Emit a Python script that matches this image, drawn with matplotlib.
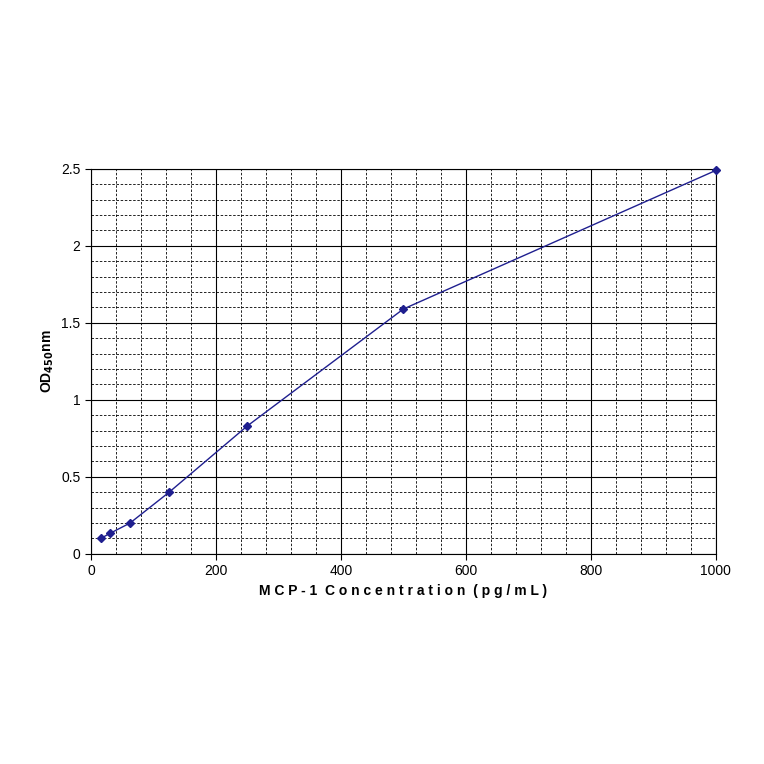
import matplotlib
matplotlib.use("Agg")
import matplotlib.pyplot as plt
from matplotlib.ticker import MultipleLocator, FuncFormatter

conc = [15.6, 31.25, 62.5, 125, 250, 500, 1000]
od = [0.10, 0.135, 0.20, 0.40, 0.83, 1.59, 2.49]

plt.rcParams['font.family'] = ['Liberation Sans', 'DejaVu Sans']
fig = plt.figure(figsize=(7.64, 7.64), dpi=100)
ax = fig.add_axes([0.119, 0.275, 0.818, 0.504])
ax.plot(conc, od, color='#1f1f8f', lw=1, marker='D', ms=4, mfc='#1f1f8f', mec='#1f1f8f', clip_on=False, zorder=3)
ax.set_xlim(0, 1000)
ax.set_ylim(0, 2.5)
ax.xaxis.set_major_locator(MultipleLocator(200))
ax.xaxis.set_minor_locator(MultipleLocator(40))
ax.yaxis.set_major_locator(MultipleLocator(0.5))
ax.yaxis.set_minor_locator(MultipleLocator(0.1))
ax.yaxis.set_major_formatter(FuncFormatter(lambda v, p: f'{v:g}'))
ax.grid(which='major', color='black', lw=0.8)
ax.grid(which='minor', color='black', lw=0.6, ls=(0, (3, 2)))
ax.tick_params(which='minor', length=0)
ax.tick_params(which='major', labelsize=10, length=4)
for s in ax.spines.values():
    s.set_color('black')
ax.set_xlabel('M C P - 1  C o n c e n t r a t i o n  ( p g / m L )', fontsize=10, fontweight='bold')
ax.set_ylabel(r'OD$_{\mathbf{450}}$nm', fontsize=10, fontweight='bold')
fig.savefig('out.png', dpi=100)
